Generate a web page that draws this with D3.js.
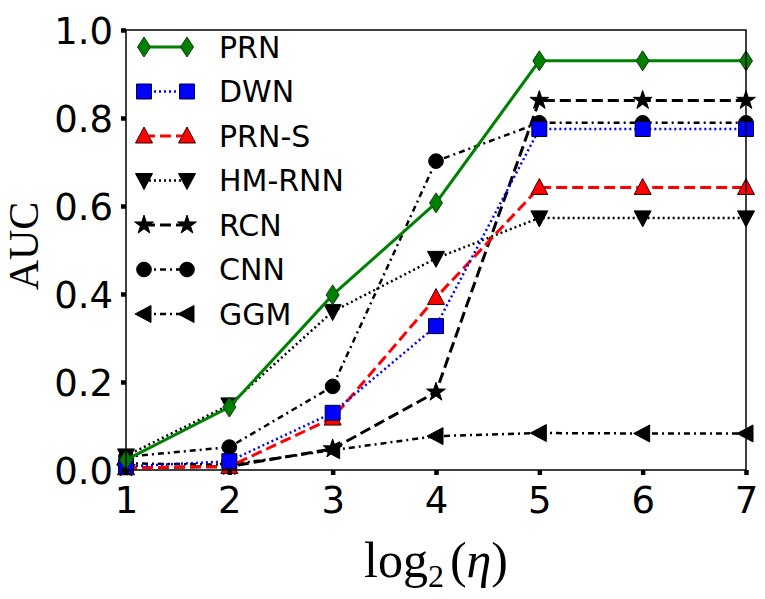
<!DOCTYPE html>
<html><head><meta charset="utf-8">
<script src="https://cdn.jsdelivr.net/npm/d3@7"></script>
<style>body{margin:0;background:#fff}</style>
</head><body>
<svg id="c" width="765" height="599"></svg>
<script>
const xs = [1,2,3,4,5,6,7];
const xTicks = [1,2,3,4,5,6,7];
const yTicks = [0.0,0.2,0.4,0.6,0.8,1.0];
const seriesNames = ["PRN","DWN","PRN-S","HM-RNN","RCN","CNN","GGM"];
const PRN   = [0.023,0.143,0.398,0.607,0.930,0.930,0.930];
const DWN   = [0.008,0.020,0.130,0.327,0.775,0.775,0.775];
const PRNS  = [0.005,0.008,0.118,0.392,0.642,0.642,0.642];
const HMRNN = [0.032,0.148,0.360,0.481,0.573,0.573,0.573];
const RCN   = [0.005,0.008,0.048,0.177,0.840,0.840,0.840];
const CNN   = [0.030,0.052,0.190,0.702,0.789,0.789,0.789];
const GGM   = [0.015,0.012,0.045,0.077,0.084,0.083,0.083];

const styles = {
  "PRN":   {data:PRN,   color:"#008000", fill:"#008000", edge:"#0a3d0a", dash:null,       w:3,   marker:"diamond"},
  "DWN":   {data:DWN,   color:"#0000ff", fill:"#0000ff", edge:"#000033", dash:"2,3",      w:2.5, marker:"square"},
  "PRN-S": {data:PRNS,  color:"#ff0000", fill:"#ff0000", edge:"#330000", dash:"11,5",     w:3,   marker:"triangleUp"},
  "HM-RNN":{data:HMRNN, color:"#000000", fill:"#000000", edge:"#000000", dash:"2,3",      w:2.5, marker:"triangleDown"},
  "RCN":   {data:RCN,   color:"#000000", fill:"#000000", edge:"#000000", dash:"11,5",     w:3,   marker:"star"},
  "CNN":   {data:CNN,   color:"#000000", fill:"#000000", edge:"#000000", dash:"6,4,2,4",  w:2.5, marker:"circle"},
  "GGM":   {data:GGM,   color:"#000000", fill:"#000000", edge:"#000000", dash:"6,4,2,4",  w:2.5, marker:"triangleLeft"}
};

const svg = d3.select("#c");
const L=126, R=746, T=30, B=470;
const x = d3.scaleLinear().domain([1,7]).range([L,R]);
const y = d3.scaleLinear().domain([0,1]).range([B,T]);

function markerPath(type){
  switch(type){
    case "diamond": return "M0,-10 L6.5,0 L0,10 L-6.5,0 Z";
    case "square": return "M-7.5,-7.5 H7.5 V7.5 H-7.5 Z";
    case "triangleUp": return "M0,-9 L8.5,7 L-8.5,7 Z";
    case "triangleDown": return "M0,9 L8.5,-7 L-8.5,-7 Z";
    case "triangleLeft": return "M-9,0 L7,-8.5 L7,8.5 Z";
    case "circle": return d3.symbol(d3.symbolCircle, 170)();
    case "star": return d3.symbol(d3.symbolStar, 110)();
  }
}

const plot = svg.append("g");
const drawOrder = seriesNames.slice().reverse();
const line = d3.line().x((d,i)=>x(xs[i])).y(d=>y(d));
drawOrder.forEach(name=>{
  const s = styles[name];
  plot.append("path").datum(s.data).attr("d", line)
    .attr("fill","none").attr("stroke",s.color).attr("stroke-width",s.w)
    .attr("stroke-dasharray",s.dash);
  plot.selectAll(null).data(s.data).enter().append("path")
    .attr("d", markerPath(s.marker))
    .attr("transform",(d,i)=>`translate(${x(xs[i])},${y(d)})`)
    .attr("fill",s.fill).attr("stroke",s.edge).attr("stroke-width",1);
});

svg.append("rect").attr("x",L).attr("y",T).attr("width",R-L).attr("height",B-T)
  .attr("fill","none").attr("stroke","#000").attr("stroke-width",1.5);

const xAxis = d3.axisBottom(x).tickValues(xTicks).tickFormat(d3.format("d")).tickSize(5).tickPadding(8);
const yAxis = d3.axisLeft(y).tickValues(yTicks).tickFormat(d3.format(".1f")).tickSize(5).tickPadding(8);
const gx = svg.append("g").attr("transform",`translate(0,${B})`).call(xAxis);
const gy = svg.append("g").attr("transform",`translate(${L},0)`).call(yAxis);
[gx,gy].forEach(g=>{
  g.select(".domain").remove();
  g.selectAll(".tick line").attr("stroke","#000").attr("stroke-width",4.5);
  g.selectAll(".tick text").attr("font-family","DejaVu Sans").attr("font-size",37).attr("fill","#000");
});
gx.selectAll(".tick text").attr("dy","0.8em");
gy.selectAll(".tick text").attr("dy","0.36em");

const lg = svg.append("g");
seriesNames.forEach((name,i)=>{
  const s = styles[name];
  const cy = 47 + i*44.5;
  lg.append("line").attr("x1",144).attr("x2",187).attr("y1",cy).attr("y2",cy)
    .attr("stroke",s.color).attr("stroke-width",s.w).attr("stroke-dasharray",s.dash);
  [144,187].forEach(cx=>{
    lg.append("path").attr("d",markerPath(s.marker)).attr("transform",`translate(${cx},${cy})`)
      .attr("fill",s.fill).attr("stroke",s.edge).attr("stroke-width",1);
  });
  lg.append("text").attr("x",219).attr("y",cy).attr("dy","0.36em")
    .attr("font-family","DejaVu Sans").attr("font-size",30).attr("fill","#000").text(name);
});

svg.append("text").attr("transform","translate(38,246) rotate(-90)")
  .attr("text-anchor","middle").attr("font-family","Liberation Serif").attr("font-size",42)
  .attr("fill","#000").text("AUC");
const xl = svg.append("text").attr("x",436).attr("y",577).attr("text-anchor","middle")
  .attr("font-family","Liberation Serif").attr("font-size",50).attr("fill","#000");
xl.append("tspan").text("log");
xl.append("tspan").attr("font-size",32).attr("dy",10).text("2");
xl.append("tspan").attr("dy",-10).attr("dx",6).text("(");
xl.append("tspan").attr("font-style","italic").text("η");
xl.append("tspan").text(")");
</script>
</body></html>
